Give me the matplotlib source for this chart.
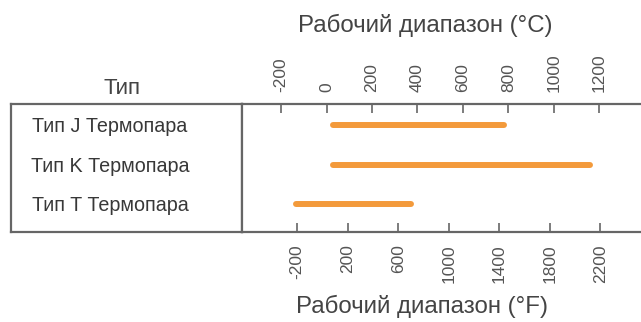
import numpy as np
import matplotlib
matplotlib.use('Agg')
import matplotlib.pyplot as plt

plt.rcParams['font.family'] = ['Liberation Sans', 'DejaVu Sans']

# data
types = ['Тип J Термопара', 'Тип K Термопара', 'Тип T Термопара']
t_min = [28, 28, -133]      # °C
t_max = [780, 1160, 373]    # °C
c_ticks = [-200, 0, 200, 400, 600, 800, 1000, 1200]
f_ticks = [-200, 200, 600, 1000, 1400, 1800, 2200]

W, H = 641, 322
line_c = '#666666'
text_c = '#555555'
bar_c = '#F39A3B'

fig = plt.figure(figsize=(W / 100, H / 100), dpi=100)

top, bot = 104.3, 231.7
x_div = 241.7

# left "table" column
axl = fig.add_axes([11 / W, 1 - bot / H, (x_div - 11) / W, (bot - top) / H])
axl.set_xticks([])
axl.set_yticks([])
for s in axl.spines.values():
    s.set_color(line_c)
    s.set_linewidth(1.6)
axl.set_ylim(2.70, -0.533)
axl.set_xlim(0, 1)
for i, name in enumerate(types):
    axl.text(99 / (x_div - 11), i + 0.04, name, ha='center', va='center',
             fontsize=14.2, color='#383838')

# main axes
ax = fig.add_axes([x_div / W, 1 - bot / H, (W - x_div) / W, (bot - top) / H])
px_per_c = (599.3 - 281) / 1400
x0 = 326.5
ax.set_xlim((x_div - x0) / px_per_c, (W - x0) / px_per_c)
ax.set_ylim(2.70, -0.533)

for i in range(len(types)):
    ax.plot([t_min[i], t_max[i]], [i, i], color=bar_c, lw=4.3,
            solid_capstyle='round')

ax.set_yticks([])
ax.spines['right'].set_visible(False)
for s in ['top', 'bottom', 'left']:
    ax.spines[s].set_color(line_c)
    ax.spines[s].set_linewidth(1.6)

ax.xaxis.set_ticks_position('top')
ax.set_xticks(c_ticks)
ax.set_xticklabels([str(v) for v in c_ticks], rotation=90)
ax.tick_params(axis='x', direction='in', length=6.5, width=1.2, color=line_c,
               labelcolor=text_c, labelsize=12.5, pad=9)

sec = ax.secondary_xaxis('bottom', functions=(lambda c: c * 9 / 5 + 32,
                                              lambda f: (f - 32) * 5 / 9))
sec.set_xticks(f_ticks)
sec.set_xticklabels([str(v) for v in f_ticks], rotation=90)
sec.tick_params(axis='x', direction='in', length=6.5, width=1.2, color=line_c,
                labelcolor=text_c, labelsize=12.5, pad=9)
sec.spines['bottom'].set_visible(False)

fig.text(425 / W, 1 - 25 / H, 'Рабочий диапазон (°C)', ha='center', va='center',
         fontsize=17.3, color='#444444')
fig.text(422 / W, 1 - 306 / H, 'Рабочий диапазон (°F)', ha='center', va='center',
         fontsize=17.3, color='#444444')
fig.text(121.5 / W, 1 - 89 / H, 'Тип', ha='center', va='center',
         fontsize=16, color='#444444')

fig.savefig('out.png', dpi=100)
